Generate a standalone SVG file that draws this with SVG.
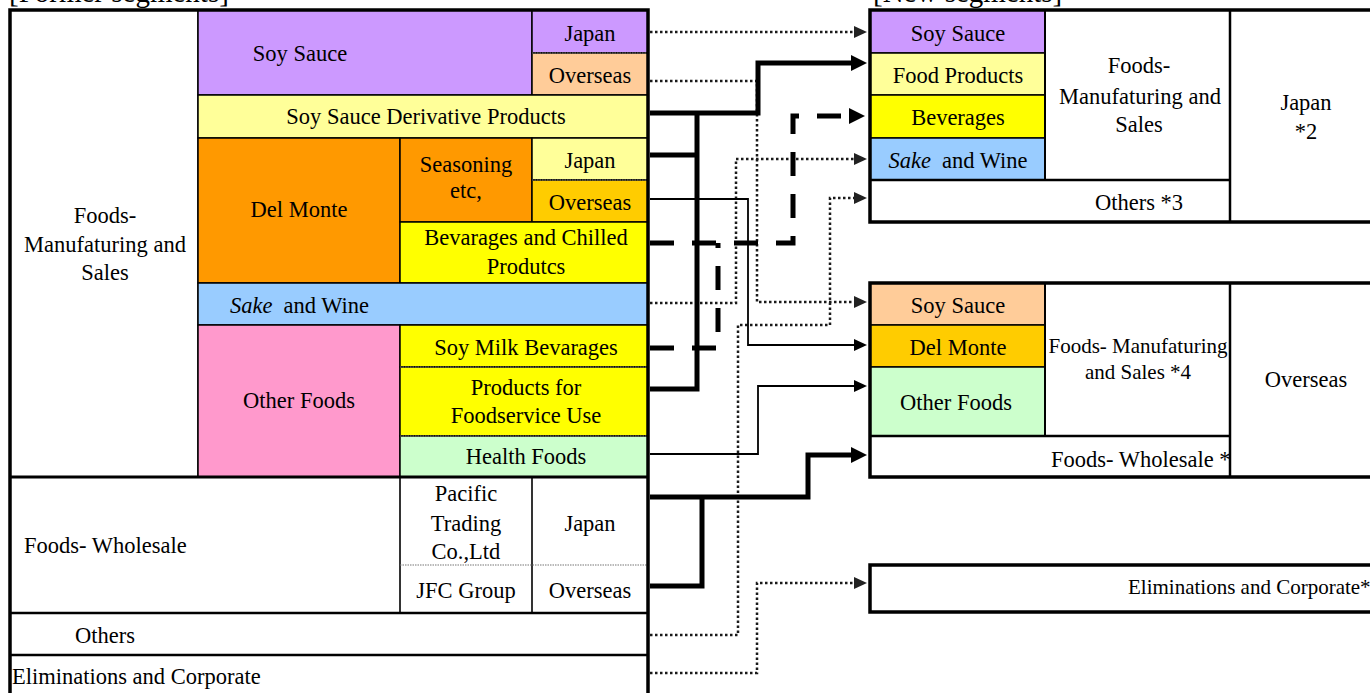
<svg xmlns="http://www.w3.org/2000/svg" width="1370" height="693" viewBox="0 0 1370 693">
<style>
text{font-family:"Liberation Serif","Times New Roman",serif;font-size:22.5px;fill:#000}
.c{text-anchor:middle}
.s{font-size:21px}
.h{font-size:29px}
.cell{stroke:#000;stroke-width:1.5}
.ln{stroke:#000;fill:none}
.sep{stroke:#777;stroke-width:1.2;stroke-dasharray:1.5,1}
.thick{stroke:#000;stroke-width:5;fill:none}
.dash{stroke:#000;stroke-width:5;fill:none;stroke-dasharray:24,18}
.thin{stroke:#000;stroke-width:1.8;fill:none}
.dot{stroke:#1a1a1a;stroke-width:2.5;fill:none;stroke-dasharray:2.5,2.5}
</style>
<defs>
<marker id="aT" markerUnits="userSpaceOnUse" markerWidth="16" markerHeight="16" refX="1" refY="8" orient="auto"><path d="M0,0 L16,8 L0,16 z" fill="#000"/></marker>
<marker id="aS" markerUnits="userSpaceOnUse" markerWidth="14" markerHeight="12" refX="1" refY="6" orient="auto"><path d="M0,0 L13,6 L0,12 z" fill="#000"/></marker>
<marker id="aD" markerUnits="userSpaceOnUse" markerWidth="14" markerHeight="12" refX="1" refY="6" orient="auto"><path d="M0,0 L13,6 L0,12 z" fill="#222"/></marker>
</defs>
<rect width="1370" height="693" fill="#fff"/>

<text class="h" x="9" y="2">[Former segments]</text>
<text class="h" x="873" y="2">[New segments]</text>

<!-- Former segments table -->
<g id="former-foods-mfg">
<rect x="10" y="10" width="188" height="467" fill="#fff" class="cell"/>
<text class="c" x="105" y="223">Foods-</text>
<text class="c" x="105" y="252">Manufaturing and</text>
<text class="c" x="105" y="280">Sales</text>
</g>
<g id="former-soy-sauce">
<rect x="198" y="10" width="334" height="85" fill="#CC99FF" class="cell"/>
<text class="c" x="300" y="61">Soy Sauce</text>
<rect x="532" y="10" width="116" height="43" fill="#CC99FF" class="cell"/>
<text class="c" x="590" y="41">Japan</text>
<rect x="532" y="53" width="116" height="42" fill="#FFCC99" class="cell"/>
<line x1="532" y1="53" x2="648" y2="53" class="sep"/>
<text class="c" x="590" y="83">Overseas</text>
</g>
<g id="former-soy-derivative">
<rect x="198" y="95" width="450" height="43" fill="#FFFF99" class="cell"/>
<text class="c" x="426" y="124">Soy Sauce Derivative Products</text>
</g>
<g id="former-del-monte">
<rect x="198" y="138" width="202" height="145" fill="#FF9900" class="cell"/>
<text class="c" x="299" y="217">Del Monte</text>
<rect x="400" y="138" width="132" height="84" fill="#FF9900" class="cell"/>
<text class="c" x="466" y="172">Seasoning</text>
<text class="c" x="466" y="198">etc,</text>
<rect x="532" y="138" width="116" height="42" fill="#FFFF99" class="cell"/>
<text class="c" x="590" y="168">Japan</text>
<rect x="532" y="180" width="116" height="42" fill="#FFCC00" class="cell"/>
<line x1="532" y1="180" x2="648" y2="180" class="sep"/>
<text class="c" x="590" y="210">Overseas</text>
<rect x="400" y="222" width="248" height="61" fill="#FFFF00" class="cell"/>
<text class="c" x="526" y="245">Bevarages and Chilled</text>
<text class="c" x="526" y="274">Produtcs</text>
</g>
<g id="former-sake">
<rect x="198" y="283" width="450" height="42" fill="#99CCFF" class="cell"/>
<text x="230" y="313"><tspan font-style="italic">Sake</tspan><tspan dx="11">and Wine</tspan></text>
</g>
<g id="former-other-foods">
<rect x="198" y="325" width="202" height="152" fill="#FF99CC" class="cell"/>
<text class="c" x="299" y="408">Other Foods</text>
<rect x="400" y="325" width="248" height="42" fill="#FFFF00" class="cell"/>
<text class="c" x="526" y="355">Soy Milk Bevarages</text>
<rect x="400" y="367" width="248" height="69" fill="#FFFF00" class="cell"/>
<line x1="400" y1="367" x2="648" y2="367" class="sep"/>
<text class="c" x="526" y="395">Products for</text>
<text class="c" x="526" y="423">Foodservice Use</text>
<rect x="400" y="436" width="248" height="41" fill="#CCFFCC" class="cell"/>
<line x1="400" y1="436" x2="648" y2="436" class="sep"/>
<text class="c" x="526" y="464">Health Foods</text>
</g>
<g id="former-wholesale">
<rect x="10" y="477" width="638" height="136" fill="#fff" class="cell"/>
<line x1="400" y1="477" x2="400" y2="613" class="ln" stroke-width="1.6"/>
<line x1="532" y1="477" x2="532" y2="613" class="ln" stroke-width="1.6"/>
<line x1="400" y1="565" x2="648" y2="565" class="sep"/>
<text x="24" y="553">Foods- Wholesale</text>
<text class="c" x="466" y="501">Pacific</text>
<text class="c" x="466" y="531">Trading</text>
<text class="c" x="466" y="559">Co.,Ltd</text>
<text class="c" x="590" y="531">Japan</text>
<text class="c" x="466" y="598">JFC Group</text>
<text class="c" x="590" y="598">Overseas</text>
</g>
<g id="former-others">
<rect x="10" y="613" width="638" height="42" fill="#fff" class="cell"/>
<text class="c" x="105" y="643">Others</text>
</g>
<g id="former-elim">
<rect x="10" y="655" width="638" height="50" fill="#fff" class="cell"/>
<text x="12" y="684">Eliminations and Corporate</text>
</g>
<g id="former-frame">
<line x1="10" y1="477" x2="648" y2="477" class="ln" stroke-width="3"/>
<line x1="10" y1="613" x2="648" y2="613" class="ln" stroke-width="2.5"/>
<line x1="10" y1="655" x2="648" y2="655" class="ln" stroke-width="2.5"/>
<rect x="10" y="10" width="638" height="700" class="ln" stroke-width="3.5"/>
</g>

<!-- New segments: Japan -->
<g id="new-japan">
<rect x="870" y="10" width="520" height="212" fill="#fff"/>
<rect x="870" y="10" width="175" height="43" fill="#CC99FF" class="cell"/>
<text class="c" x="958" y="41">Soy Sauce</text>
<rect x="870" y="53" width="175" height="42" fill="#FFFF99" class="cell"/>
<text class="c" x="958" y="83">Food Products</text>
<rect x="870" y="95" width="175" height="43" fill="#FFFF00" class="cell"/>
<text class="c" x="958" y="125">Beverages</text>
<rect x="870" y="138" width="175" height="42" fill="#99CCFF" class="cell"/>
<text class="c" x="958" y="168"><tspan font-style="italic">Sake</tspan><tspan dx="11">and Wine</tspan></text>
<line x1="1045" y1="10" x2="1045" y2="180" class="ln" stroke-width="2"/>
<line x1="870" y1="180" x2="1230" y2="180" class="ln" stroke-width="2.5"/>
<line x1="1230" y1="10" x2="1230" y2="222" class="ln" stroke-width="2.5"/>
<text class="c" x="1139" y="73">Foods-</text>
<text class="c" x="1140" y="104">Manufaturing and</text>
<text class="c" x="1139" y="132">Sales</text>
<text class="c" x="1306" y="110">Japan</text>
<text class="c" x="1306" y="139">*2</text>
<text class="c" x="1139" y="210">Others *3</text>
<rect x="870" y="10" width="520" height="212" class="ln" stroke-width="3.5"/>
</g>

<!-- New segments: Overseas -->
<g id="new-overseas">
<rect x="870" y="283" width="520" height="194" fill="#fff"/>
<rect x="870" y="283" width="175" height="42" fill="#FFCC99" class="cell"/>
<text class="c" x="958" y="313">Soy Sauce</text>
<rect x="870" y="325" width="175" height="42" fill="#FFCC00" class="cell"/>
<text class="c" x="958" y="355">Del Monte</text>
<rect x="870" y="367" width="175" height="69" fill="#CCFFCC" class="cell"/>
<text class="c" x="956" y="410">Other Foods</text>
<line x1="1045" y1="283" x2="1045" y2="436" class="ln" stroke-width="2"/>
<line x1="870" y1="436" x2="1230" y2="436" class="ln" stroke-width="2.5"/>
<text class="c s" x="1138" y="353">Foods- Manufaturing</text>
<text class="c s" x="1138" y="379">and Sales *4</text>
<text x="1051" y="467">Foods- Wholesale *</text>
<line x1="1230" y1="283" x2="1230" y2="477" class="ln" stroke-width="2.5"/>
<text class="c" x="1306" y="387">Overseas</text>
<rect x="870" y="283" width="520" height="194" class="ln" stroke-width="3.5"/>
</g>

<g id="new-elim">
<rect x="870" y="565" width="520" height="47" fill="#fff" class="ln" stroke-width="3.5"/>
<text class="s" x="1128" y="594">Eliminations and Corporate*</text>
</g>

<!-- Connectors -->
<g id="connectors">
<path class="dot" d="M650,32 H855" marker-end="url(#aD)"/>
<path class="dot" d="M650,81 H757 V302 H855" marker-end="url(#aD)"/>
<path class="dot" d="M650,303 H736 V159 H855" marker-end="url(#aD)"/>
<path class="dot" d="M650,635 H738 V325 H830 V198 H855" marker-end="url(#aD)"/>
<path class="dot" d="M650,673 H757 V583 H855" marker-end="url(#aD)"/>
<path class="thick" d="M650,113 H758 V63 H852" marker-end="url(#aT)"/>
<path class="thick" d="M650,389 H697 V113"/>
<path class="thick" d="M650,155 H697"/>
<path class="thick" d="M650,497 H808 V455 H852" marker-end="url(#aT)"/>
<path class="thick" d="M650,586 H702 V497"/>
<path class="dash" d="M650,243 H793 V116 H850" marker-end="url(#aT)"/>
<path class="dash" d="M650,348 H718 V243"/>
<path class="thin" d="M650,199 H748 V345 H855" marker-end="url(#aS)"/>
<path class="thin" d="M650,454 H758 V386 H855" marker-end="url(#aS)"/>
</g>
</svg>
